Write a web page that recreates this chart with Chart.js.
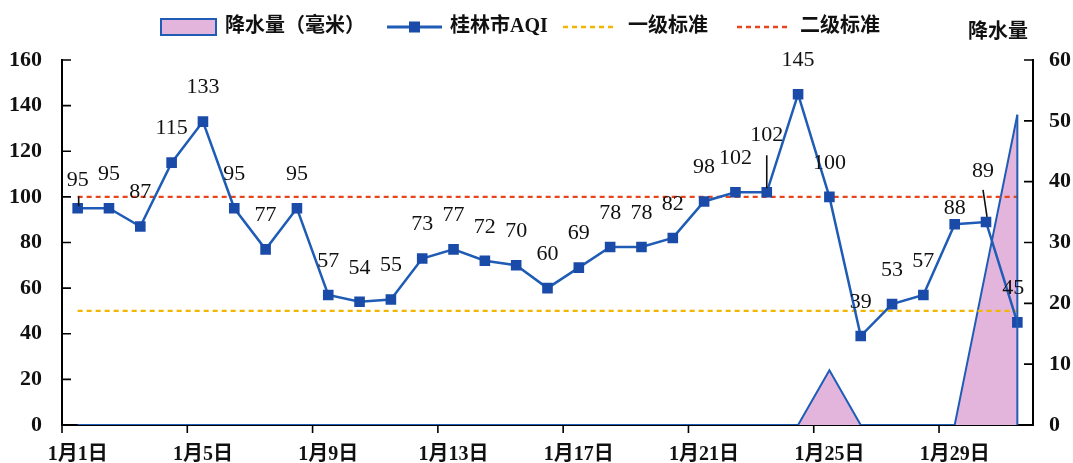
<!DOCTYPE html>
<html>
<head>
<meta charset="utf-8">
<script src="https://cdn.jsdelivr.net/npm/chart.js@4.4.1/dist/chart.umd.min.js"></script>
<style>
  html, body { margin: 0; padding: 0; background: #fff; }
</style>
</head>
<body>
<canvas id="chart" width="1073" height="463"></canvas>
<script>
// data
const days = ['1月1日', '1月2日', '1月3日', '1月4日', '1月5日', '1月6日', '1月7日', '1月8日',
  '1月9日', '1月10日', '1月11日', '1月12日', '1月13日', '1月14日', '1月15日', '1月16日',
  '1月17日', '1月18日', '1月19日', '1月20日', '1月21日', '1月22日', '1月23日', '1月24日',
  '1月25日', '1月26日', '1月27日', '1月28日', '1月29日', '1月30日', '1月31日'];
const shownDays = ['1月1日', '1月5日', '1月9日', '1月13日', '1月17日', '1月21日', '1月25日', '1月29日'];
const aqi = [95, 95, 87, 115, 133, 95, 77, 95, 57, 54, 55, 73, 77, 72, 70, 60,
  69, 78, 78, 82, 98, 102, 102, 145, 100, 39, 53, 57, 88, 89, 45];
const rain = [0, 0, 0, 0, 0, 0, 0, 0, 0, 0, 0, 0, 0, 0, 0, 0,
  0, 0, 0, 0, 0, 0, 0, 0, 9, 0, 0, 0, 0, 25.5, 51];
const level1 = [50, 50, 50, 50, 50, 50, 50, 50, 50, 50, 50, 50, 50, 50, 50, 50,
  50, 50, 50, 50, 50, 50, 50, 50, 50, 50, 50, 50, 50, 50, 50];
const level2 = [100, 100, 100, 100, 100, 100, 100, 100, 100, 100, 100, 100, 100, 100, 100, 100,
  100, 100, 100, 100, 100, 100, 100, 100, 100, 100, 100, 100, 100, 100, 100];
const seriesNames = ['降水量（毫米）', '桂林市AQI', '一级标准', '二级标准'];
const rightTitle = '降水量';

const blue = '#1f5cb5';
const markBlue = '#1a4ba8';
const pink = '#e3b5dd';
const yellow = '#f2b600';
const red = '#e8451c';
const FONT = '"Liberation Serif", "Noto Sans CJK SC", serif';

// label tweaks where the original moved a number by hand
const labelShift = { 0: [0, -28], 22: [0, -57], 28: [0, -16], 29: [-3, -51], 30: [-4, -34] };

const decor = {
  id: 'decor',
  afterDatasetsDraw(chart) {
    const { ctx, chartArea: a, scales } = chart;
    const x = scales.x, y = scales.y, y1 = scales.y1;
    ctx.save();

    // closing edge of the rain area
    const rainPts = chart.getDatasetMeta(3).data;
    const last = rainPts[rainPts.length - 1];
    ctx.strokeStyle = blue;
    ctx.lineWidth = 2;
    ctx.beginPath();
    ctx.moveTo(last.x, last.y);
    ctx.lineTo(last.x, y1.getPixelForValue(0));
    ctx.stroke();

    // inner ticks on both value axes, outer ticks on the date axis
    ctx.strokeStyle = '#000';
    ctx.lineWidth = 1.6;
    ctx.beginPath();
    y.ticks.forEach(t => {
      const py = y.getPixelForValue(t.value);
      ctx.moveTo(a.left, py); ctx.lineTo(a.left + 9, py);
    });
    y1.ticks.forEach(t => {
      const py = y1.getPixelForValue(t.value);
      ctx.moveTo(a.right - 9, py); ctx.lineTo(a.right, py);
    });
    const step = x.getPixelForValue(1) - x.getPixelForValue(0);
    days.forEach((d, i) => {
      if (shownDays.includes(d)) {
        const px = x.getPixelForValue(i) - step / 2;
        ctx.moveTo(px, a.bottom); ctx.lineTo(px, a.bottom + 8);
      }
    });
    ctx.stroke();

    // value labels
    const pts = chart.getDatasetMeta(0).data;
    ctx.fillStyle = '#111';
    ctx.font = '22px ' + FONT;
    ctx.textAlign = 'center';
    ctx.textBaseline = 'middle';
    pts.forEach((p, i) => {
      const s = labelShift[i] || [0, -34];
      ctx.fillText(aqi[i], p.x + s[0], p.y + s[1]);
    });
    // small leader marks
    ctx.strokeStyle = '#111';
    ctx.lineWidth = 1.6;
    ctx.beginPath();
    ctx.moveTo(pts[0].x + 1, pts[0].y - 12); ctx.lineTo(pts[0].x + 1, pts[0].y - 2);
    ctx.moveTo(pts[22].x, pts[22].y - 37); ctx.lineTo(pts[22].x, pts[22].y - 4);
    ctx.moveTo(pts[29].x - 3, pts[29].y - 32); ctx.lineTo(pts[29].x + 1, pts[29].y - 5);
    ctx.stroke();

    // legend
    const ly = 27;
    ctx.font = 'bold 20px ' + FONT;
    ctx.textAlign = 'left';
    ctx.fillStyle = pink;
    ctx.fillRect(161, 19, 55, 16);
    ctx.strokeStyle = blue;
    ctx.lineWidth = 2;
    ctx.strokeRect(161, 19, 55, 16);
    ctx.fillStyle = '#111';
    ctx.fillText(seriesNames[0], 225, ly);

    ctx.strokeStyle = blue;
    ctx.lineWidth = 3;
    ctx.beginPath(); ctx.moveTo(387, ly); ctx.lineTo(442, ly); ctx.stroke();
    ctx.fillStyle = markBlue;
    ctx.fillRect(409, ly - 5.5, 11, 11);
    ctx.fillStyle = '#111';
    ctx.fillText(seriesNames[1], 450, ly);

    ctx.lineWidth = 2.5;
    ctx.setLineDash([5, 4]);
    ctx.strokeStyle = yellow;
    ctx.beginPath(); ctx.moveTo(563, ly); ctx.lineTo(617, ly); ctx.stroke();
    ctx.strokeStyle = red;
    ctx.beginPath(); ctx.moveTo(737, ly); ctx.lineTo(790, ly); ctx.stroke();
    ctx.setLineDash([]);
    ctx.fillText(seriesNames[2], 628, ly);
    ctx.fillText(seriesNames[3], 800, ly);

    ctx.textAlign = 'center';
    ctx.fillText(rightTitle, 998, 33);
    ctx.restore();
  }
};

new Chart(document.getElementById('chart'), {
  type: 'line',
  data: {
    labels: days,
    datasets: [{
      label: seriesNames[1],
      data: aqi,
      yAxisID: 'y',
      borderColor: blue,
      borderWidth: 2.5,
      pointStyle: 'rect',
      pointRadius: 7.5,
      pointBackgroundColor: markBlue,
      pointBorderColor: markBlue,
      pointBorderWidth: 0,
      order: 0
    }, {
      label: seriesNames[3],
      data: level2,
      yAxisID: 'y',
      borderColor: red,
      borderWidth: 2.2,
      borderDash: [5, 4],
      pointRadius: 0,
      order: 1
    }, {
      label: seriesNames[2],
      data: level1,
      yAxisID: 'y',
      borderColor: yellow,
      borderWidth: 2.2,
      borderDash: [5, 4],
      pointRadius: 0,
      order: 2
    }, {
      label: seriesNames[0],
      data: rain,
      yAxisID: 'y1',
      borderColor: blue,
      borderWidth: 2,
      backgroundColor: pink,
      fill: 'origin',
      pointRadius: 0,
      order: 3
    }]
  },
  options: {
    responsive: false,
    animation: false,
    layout: { padding: { top: 60, left: 0, right: 0, bottom: 0 } },
    plugins: { legend: { display: false }, tooltip: { enabled: false } },
    scales: {
      x: {
        offset: true,
        grid: { display: false },
        border: { display: true, color: '#000', width: 2 },
        ticks: {
          autoSkip: false,
          maxRotation: 0,
          padding: 10,
          color: '#111',
          font: { family: FONT, size: 20, weight: 'bold' },
          callback: function (v, i) { return shownDays.includes(days[i]) ? days[i] : ''; }
        },
        afterFit: s => { s.height = 38; }
      },
      y: {
        position: 'left',
        min: 0, max: 160,
        grid: { display: false },
        border: { display: true, color: '#000', width: 2 },
        ticks: { stepSize: 20, padding: 12, color: '#111', font: { family: FONT, size: 22, weight: 'bold' } },
        afterFit: s => { s.width = 62; }
      },
      y1: {
        position: 'right',
        min: 0, max: 60,
        grid: { display: false },
        border: { display: true, color: '#000', width: 2 },
        ticks: { stepSize: 10, padding: 8, color: '#111', font: { family: FONT, size: 22, weight: 'bold' } },
        afterFit: s => { s.width = 40; }
      }
    }
  },
  plugins: [decor]
});
</script>
</body>
</html>
